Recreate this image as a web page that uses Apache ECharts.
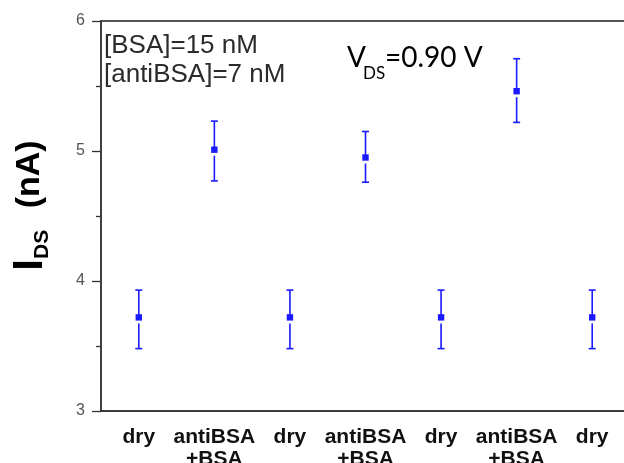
<!DOCTYPE html>
<html>
<head>
<meta charset="utf-8">
<script src="https://cdn.jsdelivr.net/npm/echarts@6/dist/echarts.min.js"></script>
<style>html,body{margin:0;padding:0;background:#fff}#c{width:624px;height:463px}</style>
</head>
<body>
<div id="c"></div>
<script>
const categories = ['dry', 'antiBSA\n+BSA', 'dry', 'antiBSA\n+BSA', 'dry', 'antiBSA\n+BSA', 'dry'];
const means = [3.72, 5.01, 3.72, 4.95, 3.72, 5.46, 3.72];
const upper = [3.93, 5.23, 3.93, 5.15, 3.93, 5.71, 3.93];
const lower = [3.48, 4.77, 3.48, 4.76, 3.48, 5.22, 3.48];
const yTicks = [3, 4, 5, 6];

const chart = echarts.init(document.getElementById('c'), null, {renderer: 'canvas'});
const blue = '#1a1aff';

function renderItem(params, api) {
  const i = api.value(0);
  const p = api.coord([i, api.value(1)]);
  const hi = api.coord([i, api.value(2)]);
  const lo = api.coord([i, api.value(3)]);
  const x = p[0];
  const cap = 3.5;
  const ls = {stroke: blue, lineWidth: 1.6};
  return {
    type: 'group',
    children: [
      {type: 'line', shape: {x1: x, y1: hi[1], x2: x, y2: p[1]}, style: ls},
      {type: 'line', shape: {x1: x, y1: p[1] + 6, x2: x, y2: lo[1]}, style: ls},
      {type: 'line', shape: {x1: x - cap, y1: hi[1], x2: x + cap, y2: hi[1]}, style: ls},
      {type: 'line', shape: {x1: x - cap, y1: lo[1], x2: x + cap, y2: lo[1]}, style: ls},
      {type: 'rect', shape: {x: x - 3.2, y: p[1] - 3.2, width: 6.4, height: 6.4}, style: {fill: blue}}
    ]
  };
}

const option = {
  animation: false,
  backgroundColor: '#fff',
  grid: {left: 101, top: 21, height: 390, width: 529, show: true, borderColor: '#555', borderWidth: 1.8,
         containLabel: false, outerBoundsMode: 'none'},
  xAxis: {
    type: 'category',
    data: categories,
    boundaryGap: true,
    axisLine: {lineStyle: {color: '#333', width: 1.5}},
    axisTick: {alignWithLabel: true, length: 5, lineStyle: {color: '#333', width: 1.5}},
    axisLabel: {
      interval: 0, margin: 15, color: '#111',
      fontFamily: 'Liberation Sans', fontWeight: 'bold', fontSize: 21, lineHeight: 22
    },
    splitLine: {show: false}
  },
  yAxis: {
    type: 'value',
    min: yTicks[0], max: yTicks[yTicks.length - 1], interval: 1,
    axisLine: {show: true, lineStyle: {color: '#333', width: 1.5}},
    axisTick: {show: true, length: 9, lineStyle: {color: '#333', width: 1.3}},
    minorTick: {show: true, splitNumber: 2, length: 5, lineStyle: {color: '#333', width: 1.3}},
    axisLabel: {margin: 16, color: '#555', fontFamily: 'Liberation Sans', fontSize: 16},
    splitLine: {show: false}
  },
  graphic: [
    {
      type: 'text', x: 30, y: 205.5, rotation: Math.PI / 2,
      style: {
        text: '{a|I}{b|DS}{c| (nA)}',
        align: 'center', verticalAlign: 'middle',
        rich: {
          a: {fontFamily: 'Liberation Sans', fontWeight: 'bold', fontSize: 42, lineHeight: 46, fill: '#000', verticalAlign: 'middle'},
          b: {fontFamily: 'Liberation Sans', fontWeight: 'bold', fontSize: 21, lineHeight: 24, fill: '#000', verticalAlign: 'bottom', padding: [0, 12, 0, 0]},
          c: {fontFamily: 'Liberation Sans', fontWeight: 'bold', fontSize: 34, lineHeight: 46, fill: '#000', verticalAlign: 'middle'}
        }
      }
    },
    {type: 'text', x: 104, y: 46, style: {text: '[BSA]=15 nM', fontFamily: 'Liberation Sans', fontSize: 26, fill: '#2b2b2b', verticalAlign: 'middle'}},
    {type: 'text', x: 104, y: 75, style: {text: '[antiBSA]=7 nM', fontFamily: 'Liberation Sans', fontSize: 26, fill: '#2b2b2b', verticalAlign: 'middle'}},
    {type: 'text', x: 347, y: 58, style: {text: 'V', fontFamily: 'Lato', fontSize: 28, fill: '#000', verticalAlign: 'middle'}},
    {type: 'text', x: 363, y: 74, style: {text: 'DS', fontFamily: 'Lato', fontSize: 17, fill: '#000', verticalAlign: 'middle'}},
    {type: 'text', x: 385, y: 58, style: {text: '=0.90 V', fontFamily: 'Lato', fontSize: 28, fill: '#000', verticalAlign: 'middle'}}
  ],
  series: [{
    type: 'custom',
    renderItem: renderItem,
    data: categories.map((c, i) => [i, means[i], upper[i], lower[i]]),
    z: 10
  }]
};
chart.setOption(option);
</script>
</body>
</html>
